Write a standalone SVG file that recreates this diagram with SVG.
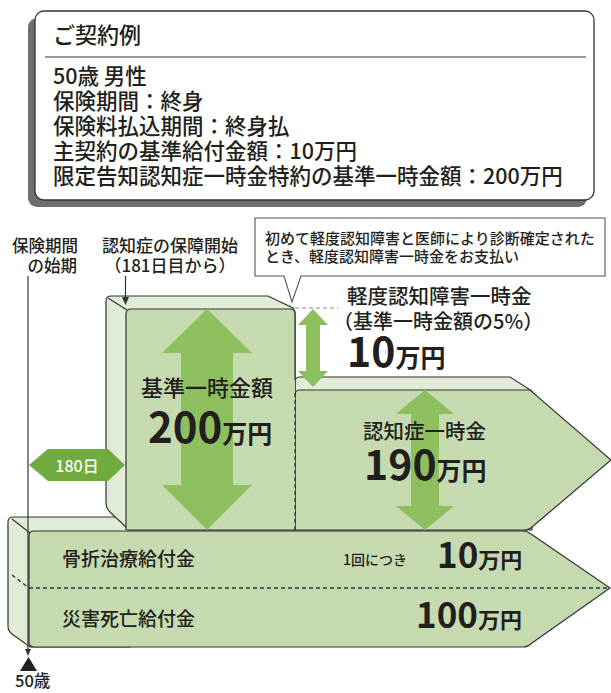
<svg xmlns="http://www.w3.org/2000/svg" width="611" height="693" viewBox="0 0 611 693">
<style>
text{font-family:"Noto Sans CJK JP","Noto Sans",sans-serif;fill:#231f1c;font-weight:500}
.ln{stroke:#333;stroke-width:1.2;fill:none}
.back{fill:#e1ecd6;stroke:#333;stroke-width:1.2}
.front{fill:#c6dab0;stroke:#333;stroke-width:1.2}
.frontf{fill:#c6dab0}
.arr{fill:#8dbf5e}
.dash{stroke:#333;stroke-width:1.3;stroke-dasharray:4 3;fill:none}
.b{font-weight:700}
</style>
<g id="contract-box">
<rect x="28" y="18" width="559" height="189" rx="9" fill="#6e6e6e"/>
<rect x="35" y="11" width="559" height="189" rx="9" fill="#fff" stroke="#333" stroke-width="1.3"/>
<line x1="45" y1="57" x2="586" y2="57" stroke="#333" stroke-width="1.2"/>
<text x="53" y="43" font-size="22">ご契約例</text>
<text x="53" y="84" font-size="21.5">50歳 男性</text>
<text x="53" y="109" font-size="21.5">保険期間：終身</text>
<text x="53" y="134" font-size="21.5">保険料払込期間：終身払</text>
<text x="53" y="159" font-size="21.5">主契約の基準給付金額：10万円</text>
<text x="53" y="184" font-size="21.5">限定告知認知症一時金特約の基準一時金額：200万円</text>
</g>
<g id="lower-box">
<path class="back" d="M13,517 L130,517 L130,647 L30,647 L12,634 Q8,631 8,626 L8,522 Q8,517 13,517 Z"/>
<path class="front" d="M34,531 L523,531 Q527,531 531,534 L610,588 L532,643 Q528,647 523,647 L34,647 Q29,647 29,642 L29,536 Q29,531 34,531 Z"/>
<line class="ln" x1="12" y1="519" x2="30" y2="533"/>
<line class="dash" x1="29" y1="588" x2="607" y2="588"/>
<line class="dash" x1="12" y1="575" x2="29" y2="588" stroke-width="1"/>
<text x="62" y="566" font-size="19">骨折治療給付金</text>
<text x="62" y="626" font-size="19">災害死亡給付金</text>
<text x="343" y="565" font-size="14">1回につき</text>
<text x="437" y="568" class="b"><tspan font-size="35">10</tspan><tspan font-size="22">万円</tspan></text>
<text x="416" y="628" class="b"><tspan font-size="35">100</tspan><tspan font-size="22">万円</tspan></text>
</g>
<g id="dementia-190">
<path class="back" d="M295,382 Q295,377 300,377 L510,377 L532,391 L532,530 L295,530 Z"/>
<path class="front" d="M300,390 L530,390 L611,460 L532,527 Q529,530 524,530 L295,530 L295,395 Q295,390 300,390 Z"/>
<polygon class="arr" points="425,390 454,414 439,414 439,506 454,506 425,530 396,506 411,506 411,414 396,414"/>
<text x="363" y="439" font-size="20.5">認知症一時金</text>
<text x="364" y="480" class="b"><tspan font-size="41">190</tspan><tspan font-size="25">万円</tspan></text>
</g>
<g id="base-200">
<path class="back" d="M111,296 L268,296 L293,308 L295,312 L295,530 L129,530 L110,512 Q106,508 106,503 L106,301 Q106,296 111,296 Z"/>
<path class="frontf" d="M131,309 L290,309 Q295,309 295,314 L295,530 L126,530 L126,314 Q126,309 131,309 Z"/>
<path class="ln" d="M126,530 L126,314 Q126,309 131,309 L290,309 Q295,309 295,314 L295,380"/>
<line class="ln" x1="108" y1="298" x2="127" y2="310"/>
<line class="ln" x1="126" y1="530" x2="295" y2="530"/>
<polygon class="arr" points="207,309 252,353 233,353 233,485 252,485 207,530 162,485 181,485 181,353 162,353"/>
<text x="207" y="396" font-size="22" text-anchor="middle">基準一時金額</text>
<text x="148" y="443" class="b"><tspan font-size="42">200</tspan><tspan font-size="25">万円</tspan></text>
</g>
<g id="mild-10">
<line x1="295" y1="308" x2="338" y2="308" stroke="#888" stroke-width="1.2" stroke-dasharray="4 3"/>
<polygon class="arr" points="313,309 328,325 320,325 320,371 328,371 313,387 298,371 306,371 306,325 298,325"/>
<text x="347" y="304" font-size="20.5">軽度認知障害一時金</text>
<text x="333" y="329" font-size="20">（基準一時金額の5%）</text>
<text x="347" y="367" class="b"><tspan font-size="41">10</tspan><tspan font-size="25">万円</tspan></text>
</g>
<g id="callout">
<path d="M255,218 H605 V276 H301 L292,302 L284,276 H255 Z" fill="#fff" stroke="#555" stroke-width="1.1"/>
<text x="265" y="244" font-size="15">初めて軽度認知障害と医師により診断確定された</text>
<text x="265" y="262" font-size="15">とき、軽度認知障害一時金をお支払い</text>
</g>
<g id="days-180">
<polygon points="29,465 48,449 108,449 125,465 108,481 48,481" fill="#6fab3e"/>
<text x="77" y="472" font-size="16" text-anchor="middle" style="fill:#fff">180日</text>
</g>
<g id="connectors">
<line class="ln" x1="28" y1="276" x2="28" y2="650"/>
<polygon points="25,649 31,649 28,656" fill="#333"/>
<line x1="295" y1="393" x2="295" y2="530" stroke="#333" stroke-width="1.2" stroke-dasharray="4 3"/>
<line class="ln" x1="125.5" y1="276" x2="125.5" y2="298"/>
<polygon points="122,297 129,297 125.5,305" fill="#333"/>
</g>
<g id="labels">
<text x="12" y="252" font-size="16.5">保険期間</text>
<text x="77" y="272" font-size="16.5" text-anchor="end">の始期</text>
<text x="170" y="252" font-size="17" text-anchor="middle">認知症の保障開始</text>
<text x="170" y="272" font-size="17" text-anchor="middle">（181日目から）</text>
<polygon points="28.5,657 37,671 20,671" fill="#222"/>
<text x="15" y="687" font-size="16.5">50歳</text>
</g>
</svg>
